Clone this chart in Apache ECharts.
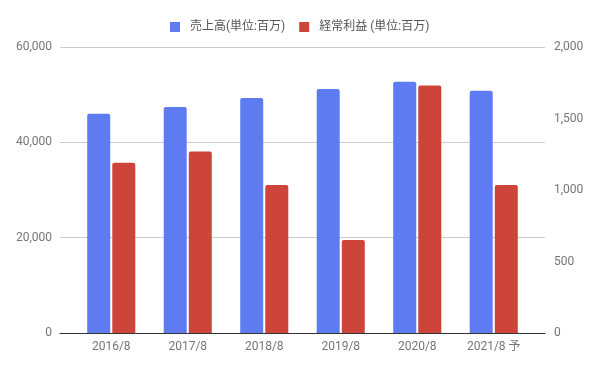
<!DOCTYPE html>
<html>
<head>
<meta charset="utf-8">
<script src="https://cdn.jsdelivr.net/npm/echarts@6/dist/echarts.min.js"></script>
<style>html,body{margin:0;padding:0;background:#fff}#c{width:597px;height:370px}</style>
</head>
<body>
<div id="c"></div>
<script>
const categories = ['2016/8', '2017/8', '2018/8', '2019/8', '2020/8', '2021/8 予'];
const salesName = '売上高(単位:百万)';
const profitName = '経常利益 (単位:百万)';
const sales = [46000, 47400, 49300, 51200, 52700, 50800];
const profit = [1190, 1270, 1035, 650, 1730, 1035];
const leftTicks = {min: 0, max: 60000, interval: 20000};
const rightTicks = {min: 0, max: 2000, interval: 500};

const FONT = "Roboto, 'Noto Sans CJK JP', sans-serif";
const chart = echarts.init(document.getElementById('c'), null, {renderer: 'canvas'});
chart.setOption({
  animation: false,
  textStyle: {fontFamily: FONT},
  legend: {
    top: 16, left: 165,
    itemWidth: 10, itemHeight: 10, itemGap: 14,
    icon: 'rect',
    textStyle: {fontFamily: FONT, fontSize: 12, color: '#555', padding: [0, 0, 0, 5]},
    data: [salesName, profitName]
  },
  grid: [
    {left: 60, right: 52, top: 47, bottom: 37},
    {left: 73, right: 65, top: 47, bottom: 37}
  ],
  xAxis: [
    {type: 'category', gridIndex: 0, data: categories,
     axisLine: {show: true, lineStyle: {color: '#333', width: 1}},
     axisTick: {show: false}, axisLabel: {show: false}, splitLine: {show: false}},
    {type: 'category', gridIndex: 1, data: categories,
     axisLine: {show: false}, axisTick: {show: false},
     axisLabel: {fontFamily: FONT, fontSize: 12, color: '#757575', margin: 8}}
  ],
  yAxis: [
    {type: 'value', gridIndex: 0, position: 'left', ...leftTicks,
     axisLine: {show: false}, axisTick: {show: false},
     axisLabel: {fontFamily: FONT, fontSize: 12, color: '#757575', margin: 8,
       formatter: v => v.toLocaleString('en-US')},
     splitLine: {show: true, lineStyle: {color: '#cccccc', width: 1}}},
    {type: 'value', gridIndex: 0, position: 'right', ...rightTicks,
     axisLine: {show: false}, axisTick: {show: false},
     axisLabel: {fontFamily: FONT, fontSize: 12, color: '#757575', margin: 9,
       formatter: v => v.toLocaleString('en-US')},
     splitLine: {show: false}},
    {type: 'value', gridIndex: 1, ...leftTicks, show: false},
    {type: 'value', gridIndex: 1, ...rightTicks, show: false}
  ],
  series: [
    {name: salesName, type: 'bar', xAxisIndex: 1, yAxisIndex: 2, data: sales,
     barWidth: 23, barGap: '9%', itemStyle: {color: '#5f7bf1', borderRadius: [2, 2, 0, 0]}},
    {name: profitName, type: 'bar', xAxisIndex: 1, yAxisIndex: 3, data: profit,
     barWidth: 23, barGap: '9%', itemStyle: {color: '#cd443a', borderRadius: [2, 2, 0, 0]}}
  ]
});
</script>
</body>
</html>
